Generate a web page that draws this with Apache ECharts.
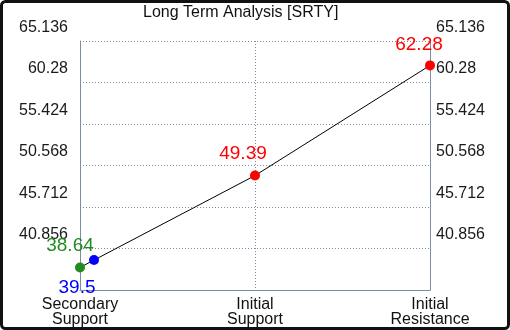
<!DOCTYPE html>
<html>
<head>
<meta charset="utf-8">
<script src="https://cdn.jsdelivr.net/npm/echarts@6/dist/echarts.min.js"></script>
<style>
html,body{margin:0;padding:0;background:#fff;}
#c{width:510px;height:330px;}
</style>
</head>
<body>
<div id="c"></div>
<script>
var title = 'Long Term Analysis [SRTY]';
var categories = ['Secondary Support', 'Initial Support', 'Initial Resistance'];
var pointX = [0, 0.08, 1, 2];
var pointY = [38.64, 39.5, 49.39, 62.28];
var pointColors = ['#228b22', '#0000ff', '#ff0000', '#ff0000'];
var yTicks = [36, 40.856, 45.712, 50.568, 55.424, 60.28, 65.136];

var labelOffsets = [[-10, -22], [-17, 28], [-12, -22], [-11, -21]];
var fontFam = '"Liberation Sans", Arial, sans-serif';
var axisColor = '#7d8ba6';
var interval = +(yTicks[1] - yTicks[0]).toFixed(3);

function fmtY(v) { return String(Math.round(v * 1000) / 1000); }

var seriesData = pointX.map(function (x, i) {
  return {
    value: [x, pointY[i]],
    itemStyle: { color: pointColors[i] },
    label: {
      show: true,
      position: 'inside',
      offset: labelOffsets[i],
      formatter: String(pointY[i]),
      color: pointColors[i],
      fontSize: 19,
      fontFamily: fontFam
    }
  };
});

var yCommon = {
  type: 'value',
  min: yTicks[0],
  max: yTicks[yTicks.length - 1],
  interval: interval,
  axisTick: { show: false },
  axisLine: { show: true, lineStyle: { color: axisColor, width: 1 } },
  axisLabel: {
    showMinLabel: false,
    formatter: fmtY,
    color: '#1a1a1a',
    fontSize: 16,
    fontFamily: fontFam,
    verticalAlign: 'bottom',
    lineHeight: 27
  }
};

var chart = echarts.init(document.getElementById('c'), null, { renderer: 'canvas' });
chart.setOption({
  animation: false,
  backgroundColor: '#ffffff',
  title: {
    text: title,
    left: 143,
    top: 5,
    padding: 0,
    textStyle: { fontSize: 16, fontWeight: 'normal', color: '#111', fontFamily: fontFam }
  },
  grid: { left: 80, right: 80, top: 41, bottom: 40, containLabel: false },
  xAxis: {
    type: 'value',
    min: 0,
    max: categories.length - 1,
    interval: 1,
    axisTick: { show: false },
    axisLine: { show: true, lineStyle: { color: axisColor, width: 1 } },
    splitLine: { show: true, lineStyle: { color: axisColor, type: [1, 2], width: 1 } },
    axisLabel: {
      formatter: function (v) { return categories[Math.round(v)].replace(' ', '\n'); },
      color: '#111',
      fontSize: 16,
      lineHeight: 15,
      margin: 7,
      fontFamily: fontFam
    }
  },
  yAxis: [
    Object.assign({}, yCommon, {
      position: 'left',
      splitLine: { show: true, lineStyle: { color: axisColor, type: [1, 2], width: 1 } },
      axisLabel: Object.assign({}, yCommon.axisLabel, { margin: 12 })
    }),
    Object.assign({}, yCommon, {
      position: 'right',
      splitLine: { show: false },
      axisLabel: Object.assign({}, yCommon.axisLabel, { margin: 6 })
    })
  ],
  series: [{
    type: 'line',
    data: seriesData,
    symbol: 'circle',
    symbolSize: 10,
    lineStyle: { color: '#000', width: 1 },
    z: 3
  }],
  graphic: [{
    type: 'rect',
    shape: { x: 1.5, y: 1.5, width: 507, height: 327, r: 4 },
    style: { fill: null, stroke: '#111', lineWidth: 3 },
    z: 100
  }]
});
</script>
</body>
</html>
